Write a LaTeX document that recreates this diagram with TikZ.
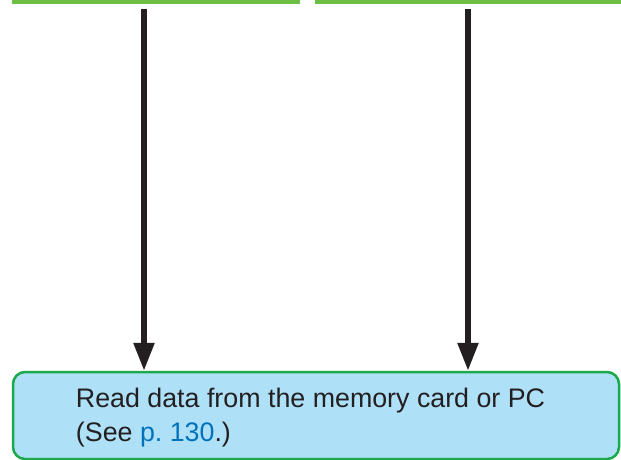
\documentclass[tikz,border=0pt]{standalone}
\usepackage{fontspec}
\setmainfont{Liberation Sans}
\usetikzlibrary{arrows.meta}
\definecolor{verdebarra}{HTML}{6CBE45}
\definecolor{verdebordo}{HTML}{1BA94C}
\definecolor{azzurro}{HTML}{AEE0F8}
\definecolor{blulink}{HTML}{0072BC}
\definecolor{nerofreccia}{HTML}{231F20}
\begin{document}
\begin{tikzpicture}[x=1pt, y=-1pt,
    barra/.style={line width=4pt, verdebarra},
    freccia/.style={line width=5.5pt, nerofreccia, -{Triangle[length=28pt, width=20pt]}},
    riquadro/.style={draw=verdebordo, line width=2.5pt, fill=azzurro, rounded corners=12pt,
        minimum width=606pt, minimum height=87pt, inner sep=0pt}]
        \useasboundingbox (0,0) rectangle (621,460);
        
        % Barre verdi in alto
        \draw[barra] (12,2) -- (300,2);
        \draw[barra] (315,2) -- (621,2);
        
        % Riquadro finale
        \node[riquadro] (lettura) at (316,415.5) {};
        \node[anchor=west, inner sep=0pt, align=left, text=nerofreccia,
            font=\fontsize{26.8}{34.5}\selectfont]
            (testo) at ([xshift=64pt, yshift=-2pt]lettura.west)
            {Read data from the memory card or PC\\(See \textcolor{blulink}{p.~130}.)};
        
        % Frecce
        \coordinate (sx) at (144,9);
        \coordinate (dx) at (468,9);
        \draw[freccia] (sx) -- (sx |- lettura.north);
        \draw[freccia] (dx) -- (dx |- lettura.north);
    \end{tikzpicture}
\end{document}
